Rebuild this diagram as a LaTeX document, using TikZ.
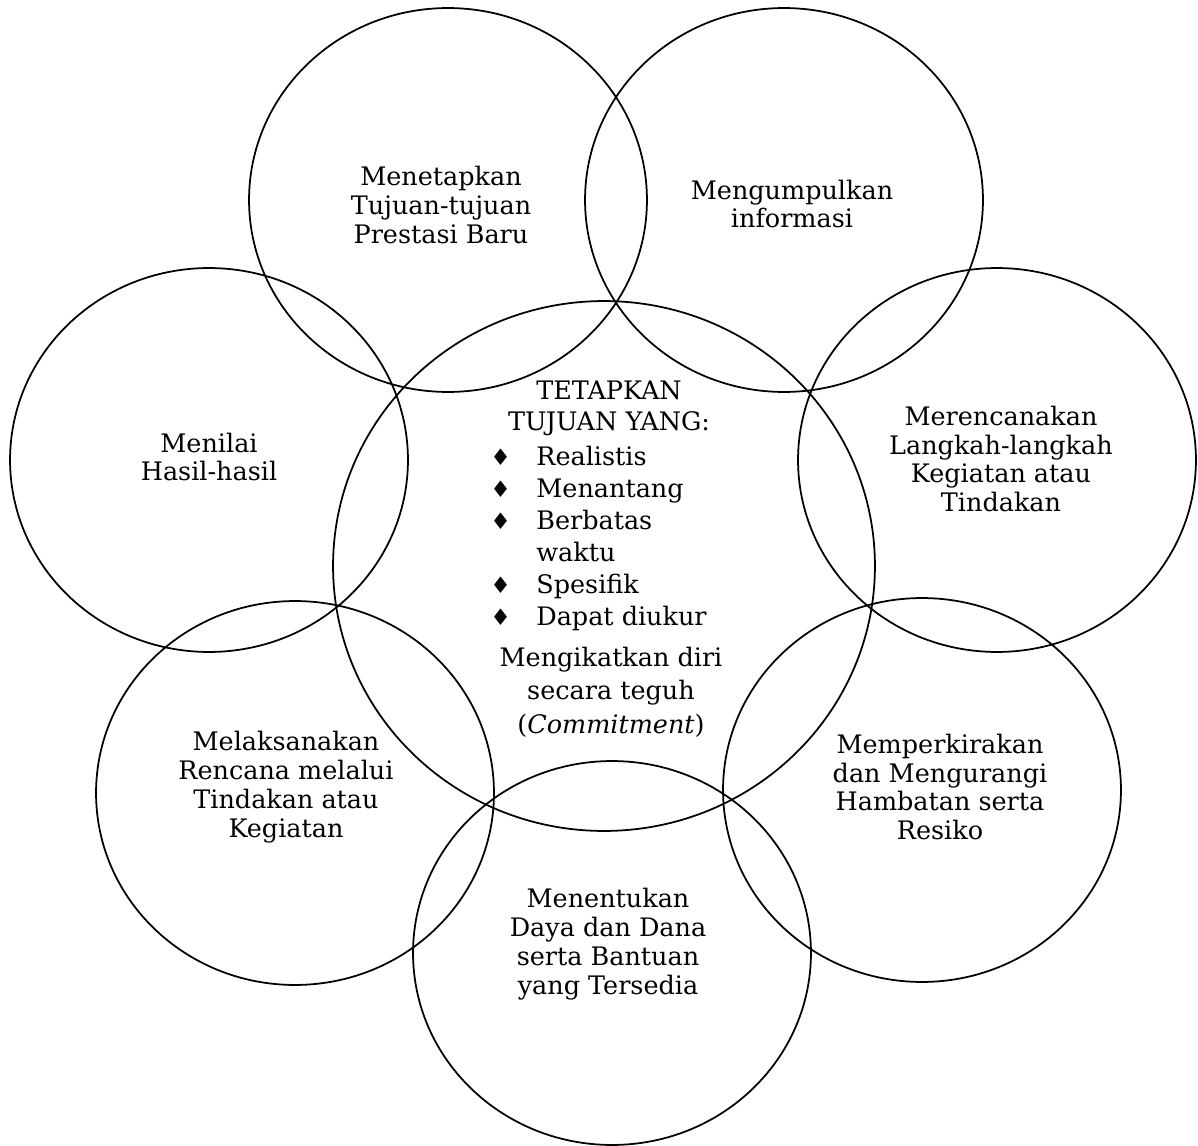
\documentclass[tikz,border=0pt]{standalone}
\usepackage{fontspec}
\setmainfont{DejaVu Serif}
\newfontfamily\dvsym{DejaVu Sans}
\usetikzlibrary{shapes.geometric}
\tikzset{
  ring/.style={ellipse, draw, line width=1pt, minimum width=7.96cm, minimum height=7.68cm, inner sep=0pt},
  caption/.style={align=center, inner sep=0pt, font=\fontsize{14.5}{16.5}\selectfont}
}
\newcommand{\diam}{{\dvsym\fontsize{13}{13}\selectfont ♦}}
\begin{document}
\begin{tikzpicture}[x=0.02cm, y=-0.02cm]
            \useasboundingbox (0,0) rectangle (1198,1146);

            % outer circles
            \node (c1) at (448,200) [ring] {};
            \node (c2) at (784,200) [ring] {};
            \node (c3) at (997,460) [ring] {};
            \node (c4) at (922,790) [ring] {};
            \node (c5) at (612,953) [ring] {};
            \node (c6) at (295,793) [ring] {};
            \node (c7) at (209,460) [ring] {};
            % central circle
            \node (c0) at (604,566) [ring, minimum width=10.84cm, minimum height=10.6cm] {};

            \node (t1) at (441,205) [caption] {Menetapkan\\Tujuan-tujuan\\Prestasi Baru};
            \node (t2) at (792,204) [caption] {Mengumpulkan\\informasi};
            \node (t3) at (1001,459) [caption] {Merencanakan\\Langkah-langkah\\Kegiatan atau\\Tindakan};
            \node (t4) at (940,787) [caption] {Memperkirakan\\dan Mengurangi\\Hambatan serta\\Resiko};
            \node (t5) at (608,944) [caption] {Menentukan\\Daya dan Dana\\serta Bantuan\\yang Tersedia};
            \node (t6) at (286,787) [caption] {Melaksanakan\\Rencana melalui\\Tindakan atau\\Kegiatan};
            \node (t7) at (209,457) [caption] {Menilai\\Hasil-hasil};

            \node (head) at (609,408) [caption, font=\fontsize{14.5}{17.5}\selectfont] {TETAPKAN\\TUJUAN YANG:};
            \node (list) at (490,539) [caption, anchor=west, font=\fontsize{14.5}{18.3}\selectfont] {%
              \begin{tabular}{@{}p{0.92cm}@{}l@{}}
                \diam & Realistis\\
                \diam & Menantang\\
                \diam & Berbatas\\
                      & waktu\\
                \diam & Spesifik\\
                \diam & Dapat diukur
              \end{tabular}};
            \node (tail) at (611,692) [caption, font=\fontsize{14.5}{19}\selectfont] {Mengikatkan diri\\secara teguh\\(\textit{Commitment})};

        \end{tikzpicture}
\end{document}
